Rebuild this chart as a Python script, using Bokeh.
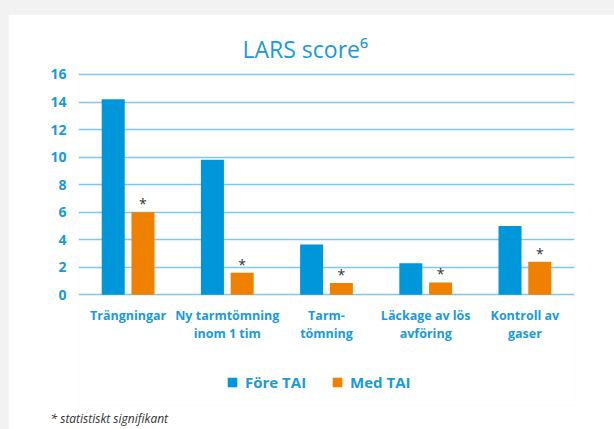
from bokeh.plotting import figure
from bokeh.models import ColumnDataSource, Legend, LegendItem, FactorRange, Title
from bokeh.transform import dodge
from bokeh.core.properties import value
from bokeh.embed import file_html
from bokeh.resources import INLINE

categories = ["Trängningar", "Ny tarmtömning\ninom 1 tim", "Tarm-\ntömning",
              "Läckage av lös\navföring", "Kontroll av\ngaser"]
fore_tai = [14.2, 9.8, 3.65, 2.3, 5.0]
med_tai = [6.0, 1.6, 0.85, 0.9, 2.4]
significant = ["*", "*", "*", "*", "*"]
y_ticks = [0, 2, 4, 6, 8, 10, 12, 14, 16]

BLUE = "#0096da"
ORANGE = "#f08000"
TEXT_BLUE = "#1a9ad6"
GRID = "#7cc8ee"
FONT = "Open Sans"

src = ColumnDataSource(dict(cat=categories, fore=fore_tai, med=med_tai,
                            star=significant, base=[0] * len(categories)))

# frame spans from just above 16 down to near the bottom so legend fits inside
p = figure(x_range=FactorRange(*categories), y_range=(-8.04, 16.29),
           x_axis_location=None,
           width=606, height=415, output_backend="svg", toolbar_location=None,
           min_border_left=70, min_border_right=40, min_border_top=56,
           min_border_bottom=20)
p.x_range.range_padding = 0
p.background_fill_color = "white"
p.border_fill_color = "white"
p.outline_line_color = None

r1 = p.vbar(x=dodge("cat", -0.15, range=p.x_range), top="fore", width=0.232,
            source=src, color=BLUE, line_color=None)
r2 = p.vbar(x=dodge("cat", 0.15, range=p.x_range), top="med", width=0.232,
            source=src, color=ORANGE, line_color=None)
p.text(x=dodge("cat", 0.15, range=p.x_range), y="med", text="star", source=src,
       text_align="center", text_baseline="bottom", y_offset=1,
       text_font=value(FONT), text_font_size="14px", text_color="#333333")
# category labels under the zero line
p.text(x="cat", y="base", text="cat", source=src, text_align="center",
       text_baseline="top", y_offset=12, text_line_height=1.06,
       text_font=value(FONT), text_font_size="12.5px", text_font_style="bold",
       text_color=TEXT_BLUE)

p.xgrid.grid_line_color = None
p.ygrid.grid_line_color = GRID
p.ygrid.grid_line_width = 1.6
p.yaxis.ticker = y_ticks
p.yaxis.axis_line_color = None
p.yaxis.major_tick_line_color = None
p.yaxis.minor_tick_line_color = None
p.yaxis.major_tick_out = 0
p.yaxis.major_tick_in = 0
p.yaxis.major_label_text_color = TEXT_BLUE
p.yaxis.major_label_text_font = FONT
p.yaxis.major_label_text_font_style = "bold"
p.yaxis.major_label_text_font_size = "14px"
p.yaxis.major_label_standoff = 12

legend = Legend(items=[LegendItem(label="Före TAI", renderers=[r1]),
                       LegendItem(label="Med TAI", renderers=[r2])],
                orientation="horizontal", location=(148, 13),
                glyph_width=12, glyph_height=12, label_height=12,
                label_standoff=7, spacing=25,
                label_text_font=FONT, label_text_font_size="15px",
                label_text_color=TEXT_BLUE, label_text_font_style="bold",
                border_line_color=None, background_fill_alpha=0, margin=0, padding=0)
p.add_layout(legend)

p.title.text = "LARS score\u2076"
p.title.align = "left"
p.title.offset = 164
p.title.text_font = FONT
p.title.text_font_size = "23px"
p.title.text_font_style = "normal"
p.title.text_color = TEXT_BLUE
p.title.standoff = 12

foot = Title(text="* statistiskt signifikant", align="left", offset=-28,
             text_font=FONT, text_font_size="12px", text_font_style="italic",
             text_color="#333333", standoff=5)
p.add_layout(foot, "below")

html = file_html(p, INLINE)
html = html.replace("</head>",
                    "<style>html,body{margin:0 !important;padding:0;background:#f2f2f2;}"
                    "body{padding:14px 0 0 8px !important;}</style></head>", 1)
open("out.html", "w").write(html)
